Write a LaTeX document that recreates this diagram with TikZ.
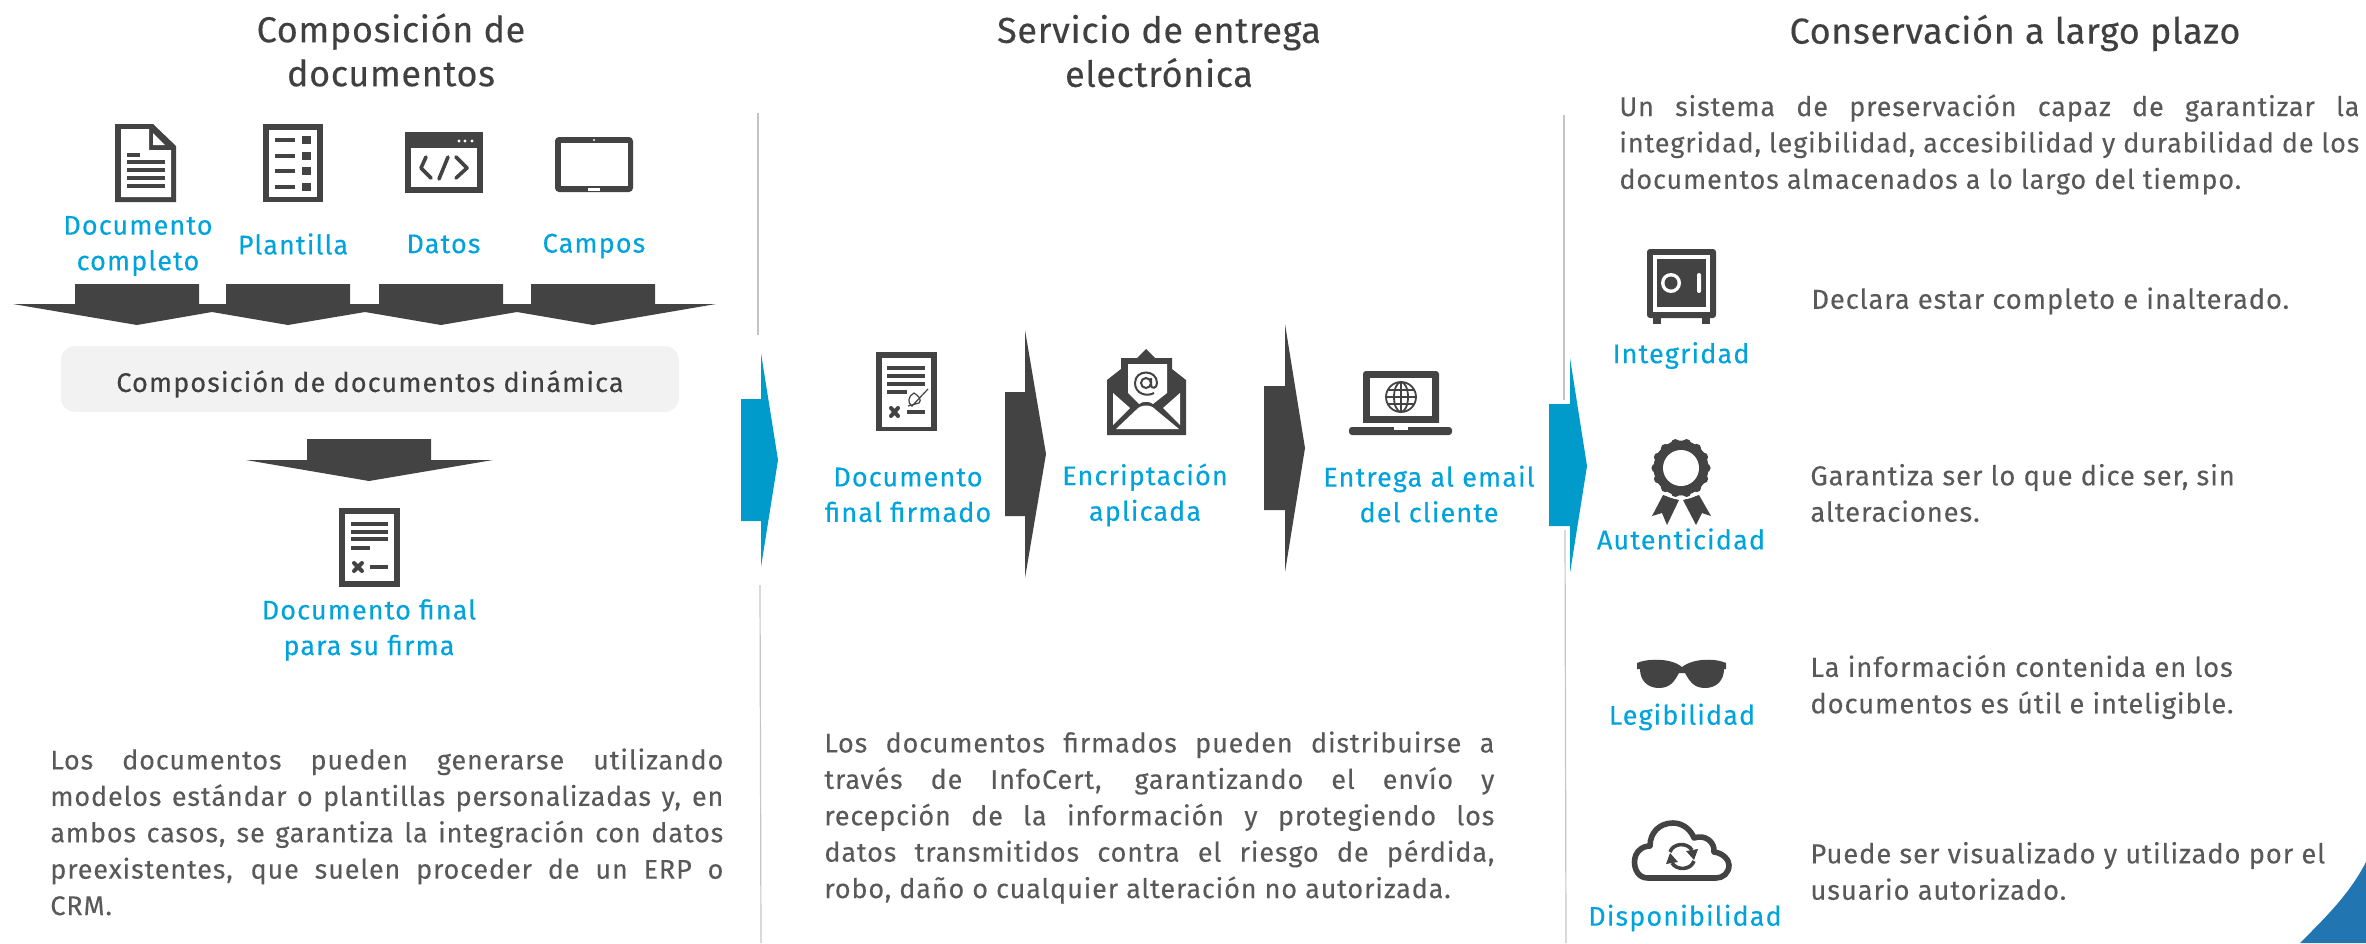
\documentclass[tikz,border=0pt]{standalone}
\usepackage{fontspec}
\setmainfont{Fira Sans}[LetterSpace=4.1,FakeBold=0.25]
\newfontfamily\titlefont{Fira Sans}[LetterSpace=1.8,FakeBold=0.25]
\newfontfamily\parafont{Fira Sans}[LetterSpace=3.2,FakeBold=0.15]
\definecolor{dk}{HTML}{434343}
\definecolor{txt}{HTML}{595959}
\definecolor{ttl}{HTML}{404040}
\definecolor{lb}{HTML}{00A3DC}
\definecolor{ab}{HTML}{009BCB}
\definecolor{gline}{HTML}{C4C4C4}
\tikzset{
 titlet/.style={font=\titlefont\fontsize{18}{22}\selectfont,text=ttl,align=center,inner sep=0pt},
 lbl/.style={font=\fontsize{13.5}{17.8}\selectfont,text=lb,align=center,inner sep=0pt},
 bodyt/.style={font=\parafont\fontsize{13.7}{18.2}\selectfont,text=txt,align=left,inner sep=0pt,anchor=west},
 para/.style={font=\parafont\fontsize{13.5}{18.2}\selectfont,text=txt,align=justify,inner sep=0pt,anchor=north west},
 ic/.style={fill=dk,draw=none},
 wh/.style={fill=white,draw=none},
 ar/.style={fill=dk,draw=none},
 abl/.style={fill=ab,draw=none},
 divl/.style={draw=gline,line width=0.6pt},
 thk/.style={draw=dk,line width=1.2pt,line cap=round,line join=round},
}
\begin{document}
\begin{tikzpicture}[x=0.5pt,y=-0.5pt]
\useasboundingbox (0,0) rectangle (2366,943);
% titles
\node[titlet] (t1) at (391,50) {Composición de\\documentos};
\node[titlet] (t2) at (1159,51) {Servicio de entrega\\electrónica};
\node[titlet] (t3) at (2015,33) {Conservación a largo plazo};
% dividers
\draw[divl] (758,113) -- (758,335);
\draw[divl] (760,585) -- (761,943);
\draw[divl] (1564,115) -- (1564,400);
\draw[divl] (1565,530) -- (1566,943);
% corner
\fill[fill={rgb,255:red,33;green,118;blue,178}] (2300,943) .. controls (2328,915) and (2350,893) .. (2366,862) -- (2366,943) -- cycle;
% doc icon
\fill[ic] (115,124) -- (153,124) -- (176,146) -- (176,202) -- (115,202) -- cycle;
\fill[wh] (121,129) -- (149,129) -- (149,150) -- (171,150) -- (171,197) -- (121,197) -- cycle;
\fill[wh] (153,133) -- (153,145) -- (165,145) -- cycle;
\fill[ic] (127,153) rectangle (140,157);
\foreach \yy in {162,170,178,186} \fill[ic] (127,\yy-2) rectangle (165,\yy+2);
% plantilla icon
\fill[ic] (263,124) rectangle (323,202);
\fill[wh] (269,130) rectangle (317,197);
\foreach \yy in {140,156,171,187} {\fill[ic] (275,\yy-2) rectangle (295,\yy+2); \fill[ic] (302,\yy-4) rectangle (311,\yy+4);}
% code icon
\fill[ic] (405,132) rectangle (483,193);
\fill[wh] (411,148) rectangle (477,187);
\foreach \xx in {459,465,472} \fill[wh] (\xx,141) circle[radius=1.7];
\draw[thk,line width=1.8pt] (426,157) -- (421,168) -- (431,178);
\draw[thk,line width=1.8pt] (448,157) -- (439,179);
\draw[thk,line width=1.8pt] (456,157) -- (467,168) -- (456,178);
% tablet icon
\fill[ic,rounded corners=2pt] (555,137) rectangle (633,192);
\fill[wh] (561,143) rectangle (628,186);
\fill[wh] (594,140) circle[radius=1.2];
\fill[wh] (588,188) rectangle (600,190.5);
% labels
\node[lbl] (l1) at (138,246) {Documento\\completo};
\node[lbl] (l2) at (293,244) {Plantilla};
\node[lbl] (l3) at (443.5,244) {Datos};
\node[lbl] (l4) at (594,246) {Campos};
% four down arrows
\fill[ar] (75,284) -- (199,284) -- (199,304) -- (226,304) -- (226,284) -- (350,284) -- (350,304) -- (379,304) -- (379,284) -- (503,284) -- (503,304) -- (531,304) -- (531,284) -- (655,284) -- (655,304) -- (716,304) -- (593,325) -- (517,312) -- (441,325) -- (365,312) -- (288,325) -- (212,312) -- (137,325) -- (13,304) -- (75,304) -- cycle;
% grey box
\fill[fill={rgb,255:red,242;green,242;blue,242},rounded corners=7pt] (61,346) rectangle (679,412);
\node[font=\fontsize{13.5}{17}\selectfont,text=ttl,inner sep=0pt] (dyn) at (370,384) {Composición de documentos dinámica};
% single down arrow
\fill[ar] (307,439) -- (431,439) -- (431,460) -- (493,460) -- (369,481) -- (246,460) -- (307,460) -- cycle;
% final doc
\fill[ic] (339,508) rectangle (400,587);
\fill[wh] (345,514) rectangle (394,581);
\foreach \yy in {524,532,539} \fill[ic] (351,\yy-2) rectangle (388,\yy+2);
\fill[ic] (351,546) rectangle (370,550);
\draw[thk,line width=2pt] (354,563) -- (362,571) (362,563) -- (354,571);
\fill[ic] (370,565) rectangle (388,569);
\node[lbl] (l5) at (369,630) {Documento final\\para su firma};
% left para
\node[para,text width=336.5pt] (p1) at (50,748) {Los documentos pueden generarse utilizando\linebreak modelos estándar o plantillas personalizadas y, en\linebreak ambos casos, se garantiza la integración con datos\linebreak preexistentes, que suelen proceder de un ERP o\linebreak CRM.};
% blue arrow 1
\fill[abl] (741,399) -- (761,399) -- (761,353) -- (778,460) -- (761,567) -- (761,521) -- (741,521) -- cycle;
% signed doc
\fill[ic] (876,352) rectangle (937,431);
\fill[wh] (882,358) rectangle (931,427);
\foreach \yy in {368,376,384} \fill[ic] (887,\yy-2) rectangle (925,\yy+2);
\fill[ic] (887,390) rectangle (907,394);
\draw[thk,line width=2pt] (891,408) -- (898,416) (898,408) -- (891,416);
\fill[ic] (907,410) rectangle (925,414);
\draw[draw=dk,line width=0.6pt] (928,389) -- (912,406) .. controls (907,403) and (908,396) .. (914,393) .. controls (919,396) and (922,400) .. (919,403) -- (908,406);
% envelope
\fill[ic] (1146,349) -- (1155,358) -- (1172,358) -- (1172,369) -- (1186,380) -- (1186,435) -- (1107,435) -- (1107,380) -- (1121,369) -- (1121,358) -- (1137,358) -- cycle;
\fill[wh] (1128,364) -- (1167,364) -- (1167,393) -- (1153,404) .. controls (1149,401) and (1143,401) .. (1139,404) -- (1128,393) -- cycle;
\fill[wh] (1113,393) -- (1130,408) -- (1113,425) -- cycle;
\fill[wh] (1180,393) -- (1163,408) -- (1180,425) -- cycle;
\fill[wh] (1116,429) -- (1136,410) .. controls (1141,404) and (1151,404) .. (1156,410) -- (1179,429) -- cycle;
\draw[draw=dk,line width=1pt] (1146,383) circle[radius=5];
\draw[draw=dk,line width=1pt] (1151,378) -- (1151,385) .. controls (1151,389) and (1157,389) .. (1157,383) .. controls (1157,369) and (1135,369) .. (1135,383) .. controls (1135,394) and (1147,397) .. (1154,393);
% laptop
\fill[ic,rounded corners=1.5pt] (1363,371) rectangle (1439,430);
\fill[wh] (1370,378) rectangle (1432,416);
\fill[wh] (1360,423) rectangle (1445,427);
\fill[ic,rounded corners=1.5pt] (1349,427) -- (1452,427) -- (1452,435) -- (1349,435) -- cycle;
\fill[wh] (1394,427) rectangle (1408,429.5);
\draw[draw=dk,line width=0.9pt] (1401,397) circle[radius=15];
\draw[draw=dk,line width=0.9pt] (1401,397) ellipse[x radius=7,y radius=15];
\draw[draw=dk,line width=0.9pt] (1401,382) -- (1401,412) (1388,390) -- (1414,390) (1386,397) -- (1416,397) (1388,404) -- (1414,404);
% dark arrows
\fill[ar] (1005,392) -- (1025,392) -- (1025,330) -- (1046,454) -- (1025,578) -- (1025,516) -- (1005,516) -- cycle;
\fill[ar] (1264,386) -- (1285,386) -- (1285,324) -- (1305,448) -- (1285,572) -- (1285,510) -- (1264,510) -- cycle;
% middle labels
\node[lbl] (m1) at (908,495) {Documento\\final firmado};
\node[lbl] (m2) at (1145,495) {Encriptación\\aplicada};
\node[lbl] (m3) at (1429,494) {Entrega al email\\del cliente};
% middle para
\node[para,text width=335pt] (p2) at (824,731) {Los documentos firmados pueden distribuirse a\linebreak través de InfoCert, garantizando el envío y\linebreak recepción de la información y protegiendo los\linebreak datos transmitidos contra el riesgo de pérdida,\linebreak robo, daño o cualquier alteración no autorizada.};
% blue arrow 2
\fill[abl] (1549,404) -- (1570,404) -- (1570,358) -- (1587,466) -- (1570,573) -- (1570,526) -- (1549,526) -- cycle;
% right para
\node[para,text width=370pt] (p3) at (1619,94) {Un sistema de preservación capaz de garantizar la\linebreak integridad, legibilidad, accesibilidad y durabilidad de los\linebreak documentos almacenados a lo largo del tiempo.};
% safe
\fill[ic,rounded corners=1.5pt] (1647,249) rectangle (1716,318);
\fill[ic] (1653,317) rectangle (1661,324);
\fill[ic] (1702,317) rectangle (1710,324);
\fill[wh] (1653,255) rectangle (1710,312);
\fill[ic] (1657,259) rectangle (1706,307);
\fill[wh] (1671,283) circle[radius=10];
\fill[ic] (1671,283) circle[radius=6.5];
\fill[wh,rounded corners=1pt] (1697,273) rectangle (1701,293);
\node[lbl] (r1) at (1681,355.5) {Integridad};
% medal
\fill[ic] (1663,495) -- (1679,500) -- (1667,525) -- (1662,513) -- (1652,516) -- cycle;
\fill[ic] (1699,495) -- (1683,500) -- (1696,525) -- (1702,513) -- (1711,516) -- cycle;
\fill[wh] (1681,468) circle[radius=31.5];
\fill[ic] (1681,468) circle[radius=27.5];
\foreach \a in {0,25.7,...,340} \fill[ic] (1681,468) ++(\a:25) circle[radius=4.6];
\fill[wh] (1681,468) circle[radius=18];
\node[lbl] (r2) at (1681,539) {Autenticidad};
% glasses
\fill[ic] (1637,663) .. controls (1645,659) and (1670,657) .. (1682,667) .. controls (1695,657) and (1718,659) .. (1726,663) -- (1726,669) -- (1724,669) .. controls (1724,680) and (1717,688) .. (1705,688) .. controls (1693,688) and (1689,680) .. (1685,673) -- (1679,673) .. controls (1675,680) and (1671,688) .. (1659,688) .. controls (1647,688) and (1640,680) .. (1640,669) -- (1637,669) -- cycle;
\node[lbl] (r3) at (1682,717) {Legibilidad};
% cloud
\draw[draw=dk,line width=2.8pt,line join=round] (1648,878) .. controls (1638,878) and (1634.5,869) .. (1634.5,862) .. controls (1634.5,852) and (1642,846) .. (1650,846) .. controls (1650,832) and (1660,823) .. (1673,823) .. controls (1683,823) and (1691,830) .. (1694,838) .. controls (1705,834) and (1715,842) .. (1714,852) .. controls (1723,853) and (1729,860) .. (1729,865) .. controls (1729,873) and (1723,878) .. (1716,878) -- cycle;
\draw[draw=dk,line width=1.8pt] (1670,852) .. controls (1673,843) and (1687,842) .. (1692,850);
\fill[ic] (1686,851) -- (1698,849) -- (1694,860) -- cycle;
\draw[draw=dk,line width=1.8pt] (1694,861) .. controls (1691,870) and (1677,871) .. (1672,863);
\fill[ic] (1678,862) -- (1666,864) -- (1670,853) -- cycle;
\node[lbl] (r4) at (1685,918) {Disponibilidad};
% right texts
\node[bodyt] (d1) at (1811,301) {Declara estar completo e inalterado.};
\node[bodyt] (d2) at (1810,493) {Garantiza ser lo que dice ser, sin\\alteraciones.};
\node[bodyt] (d3) at (1810,687) {La información contenida en los\\documentos es útil e inteligible.};
\node[bodyt] (d4) at (1810,871) {Puede ser visualizado y utilizado por el\\usuario autorizado.};
\end{tikzpicture}
\end{document}
